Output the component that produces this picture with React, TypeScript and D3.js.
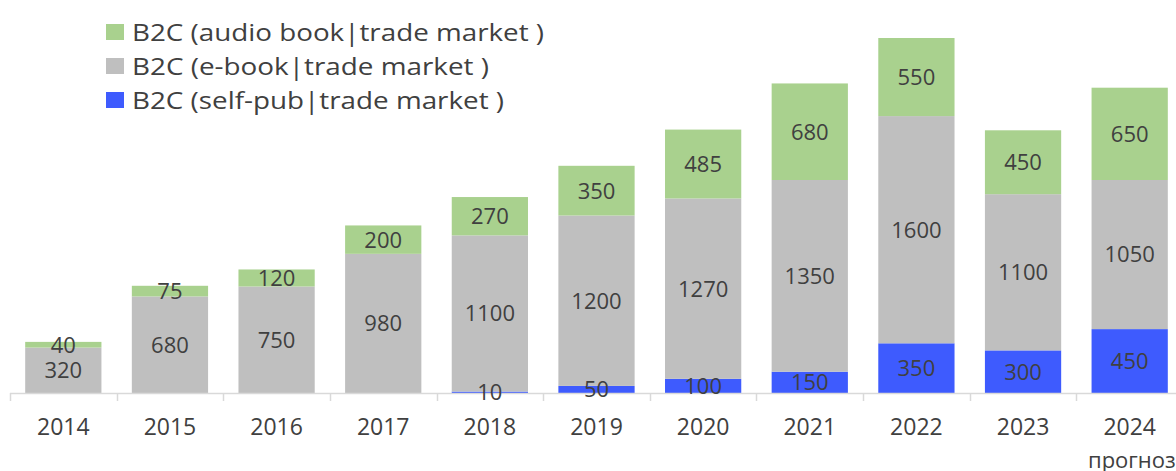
import React from "react";
import * as d3 from "d3";

const categories = ["2014", "2015", "2016", "2017", "2018", "2019", "2020", "2021", "2022", "2023", "2024"];
const subLabels = ["", "", "", "", "", "", "", "", "", "", "прогноз"];
const selfPub = [0, 0, 0, 0, 10, 50, 100, 150, 350, 300, 450];
const eBook = [320, 680, 750, 980, 1100, 1200, 1270, 1350, 1600, 1100, 1050];
const audioBook = [40, 75, 120, 200, 270, 350, 485, 680, 550, 450, 650];

const seriesNames = [
  "B2C (self-pub|trade market )",
  "B2C (e-book|trade market )",
  "B2C (audio book|trade market )",
];
const seriesColors = ["#3E5BFE", "#BFBFBF", "#A9D18E"];
const legendWidths = [372, 357, 412];

const W = 1176;
const H = 471;
const FONT = "'Open Sans', sans-serif";

export default function App() {
  const keys = ["self", "ebook", "audio"];
  const rows = categories.map((c, i) => ({
    cat: c,
    self: selfPub[i],
    ebook: eBook[i],
    audio: audioBook[i],
  }));
  const stack = d3.stack<any>().keys(keys)(rows);

  const x = d3.scaleBand().domain(categories).range([10, 1183]).paddingInner(0.285).paddingOuter(0.1425);
  const y = d3.scaleLinear().domain([0, 2500]).range([393, 38]);
  const baseY = y(0);
  const step = x.step();
  const bandStart = 10;

  const legendOrder = [2, 1, 0];

  return (
    <svg width={W} height={H} style={{ position: "absolute", left: 0, top: 0, background: "#fff" }} fontFamily={FONT}>
      {stack.map((s, si) => (
        <g key={si}>
          {s.map((d, i) => {
            const v = d[1] - d[0];
            if (v <= 0) return null;
            return (
              <rect
                key={i}
                x={x(categories[i])!}
                y={y(d[1])}
                width={x.bandwidth()}
                height={y(d[0]) - y(d[1])}
                fill={seriesColors[si]}
              />
            );
          })}
        </g>
      ))}
      {/* axis */}
      <line x1={bandStart} x2={W} y1={baseY + 0.5} y2={baseY + 0.5} stroke="#D9D9D9" strokeWidth={1.5} />
      {d3.range(categories.length + 1).map((k) => (
        <line
          key={k}
          x1={Math.round(bandStart + k * step) + 0.5}
          x2={Math.round(bandStart + k * step) + 0.5}
          y1={baseY}
          y2={baseY + 8}
          stroke="#D9D9D9"
          strokeWidth={1.5}
        />
      ))}
      {/* data labels */}
      {stack.map((s, si) => (
        <g key={"l" + si}>
          {s.map((d, i) => {
            const v = d[1] - d[0];
            if (v <= 0) return null;
            return (
              <text
                key={i}
                x={x(categories[i])! + x.bandwidth() / 2}
                y={(y(d[0]) + y(d[1])) / 2}
                dy="0.36em"
                textAnchor="middle"
                fontSize={22}
                fill="#404040"
              >
                {v}
              </text>
            );
          })}
        </g>
      ))}
      {/* category labels */}
      {categories.map((c, i) => (
        <g key={"c" + i}>
          <text x={x(c)! + x.bandwidth() / 2} y={427} dy="0.36em" textAnchor="middle" fontSize={23} fill="#404040">
            {c}
          </text>
          {subLabels[i] && (
            <text x={1088} y={460} dy="0.36em" textAnchor="start" fontSize={22} fill="#404040">
              {subLabels[i]}
            </text>
          )}
        </g>
      ))}
      {/* legend */}
      {legendOrder.map((si, r) => (
        <g key={"lg" + si} transform={`translate(106, ${32 + r * 34})`}>
          <rect x={0} y={-8} width={18} height={16} fill={seriesColors[si]} />
          <text
            x={26}
            y={0}
            dy="0.36em"
            fontSize={24}
            fill="#404040"
            textLength={legendWidths[si]}
            lengthAdjust="spacingAndGlyphs"
          >
            {seriesNames[si]}
          </text>
        </g>
      ))}
    </svg>
  );
}
